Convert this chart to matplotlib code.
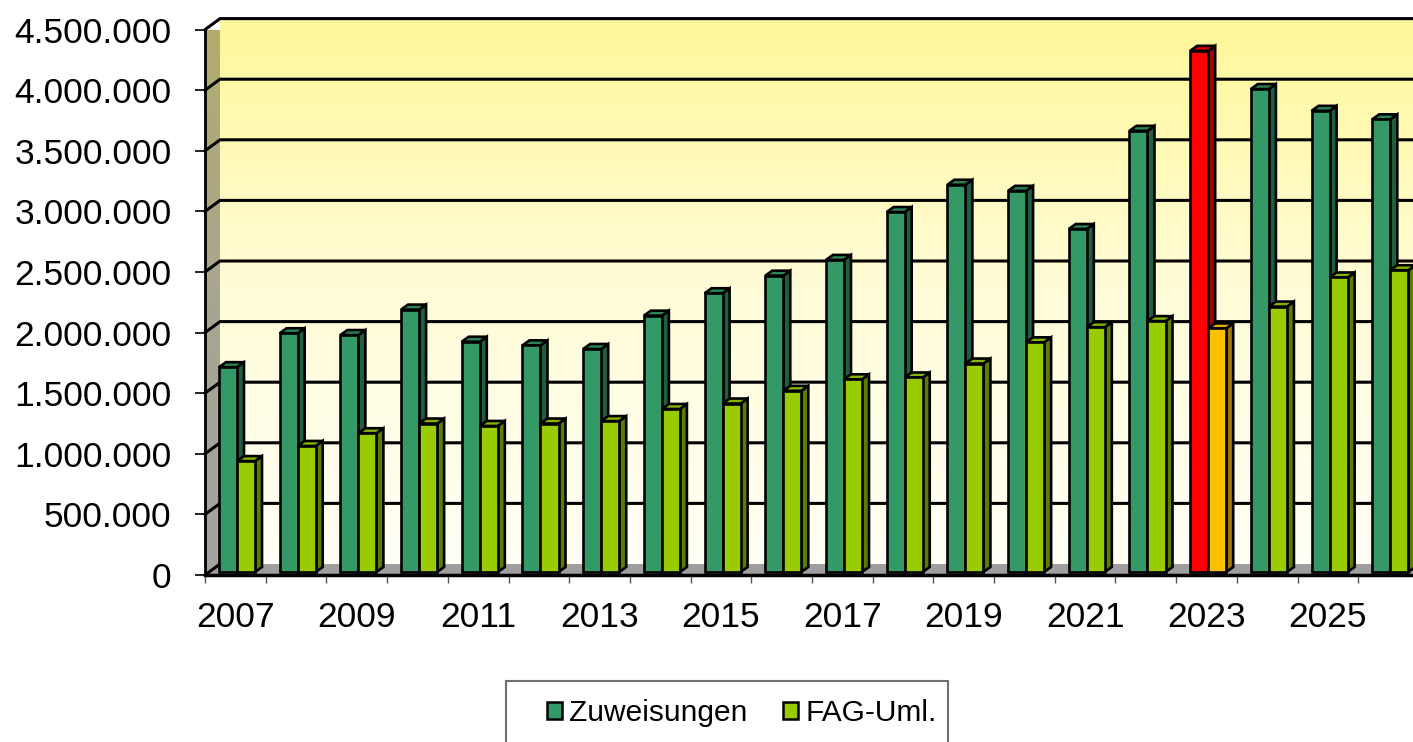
import numpy as np
import matplotlib
matplotlib.use("Agg")
import matplotlib.pyplot as plt
from matplotlib.patches import Polygon, Rectangle, Patch
from matplotlib.colors import LinearSegmentedColormap

plt.rcParams["font.family"] = ["Liberation Sans", "DejaVu Sans"]

# data
years = list(range(2007, 2027))
zuweisungen = [1690000, 1970000, 1955000, 2165000, 1900000, 1870000, 1840000,
               2115000, 2300000, 2445000, 2575000, 2970000, 3195000, 3145000,
               2830000, 3640000, 4300000, 3985000, 3805000, 3735000]
fag_uml = [915000, 1040000, 1145000, 1225000, 1205000, 1225000, 1245000,
           1345000, 1390000, 1495000, 1590000, 1605000, 1720000, 1895000,
           2020000, 2070000, 2010000, 2190000, 2430000, 2490000]
highlight_year = 2023
y_ticks = list(range(0, 4500001, 500000))
x_labels = years[::2]

# colours: front, top, side
c_zuw = ("#339966", "#2B8457", "#1F5E3F")
c_fag = ("#99CC00", "#86B300", "#5E7D00")
c_zuw_hl = ("#FF0000", "#E00000", "#A00000")
c_fag_hl = ("#FFC000", "#E6AA00", "#A07800")

W, H = 1413, 742
fig = plt.figure(figsize=(W / 100, H / 100), dpi=100)
ax = fig.add_axes([205 / W, 167 / H, (W - 205) / W, 545.4 / H])
ymax = 4500000
xmax = (W - 205) / 60.7

px_y = ymax / 545.4
px_x = 1 / 60.7
wdx, wdy = 15 * px_x, 11 * px_y   # wall depth
bdx, bdy = 7 * px_x, 5 * px_y     # bar depth
base = 3 * px_y

# back wall gradient
grad = np.linspace(0, 1, 256).reshape(-1, 1)
cm_back = LinearSegmentedColormap.from_list("back", ["#FFFFF5", "#FFFCD8", "#FFF799"])
ax.imshow(grad, extent=[wdx, xmax + 1, wdy, ymax + wdy], origin="lower",
          cmap=cm_back, aspect="auto", zorder=0, clip_on=False)

# left wall
wall = Polygon([(0, 0), (wdx, wdy), (wdx, ymax + wdy), (0, ymax)],
               closed=True, fc="none", ec="none", transform=ax.transData)
ax.add_patch(wall)
cm_left = LinearSegmentedColormap.from_list("left", ["#A3A3A3", "#A8A690", "#B3AC6C"])
im = ax.imshow(grad, extent=[0, wdx, 0, ymax + wdy], origin="lower",
               cmap=cm_left, aspect="auto", zorder=0)
im.set_clip_path(wall)

# floor
ax.add_patch(Polygon([(0, 0), (xmax + 1, 0), (xmax + 1 + wdx, wdy), (wdx, wdy)],
                     closed=True, fc="#9E9E9E", ec="none", zorder=0.5, clip_on=False))

# gridlines on walls
for v in y_ticks:
    if v == 0:
        ax.plot([0, wdx], [0, wdy], color="black", lw=2.2, zorder=1, clip_on=False)
    else:
        ax.plot([0, wdx, xmax + 1], [v, v + wdy, v + wdy], color="black", lw=2.2,
                zorder=1, clip_on=False)


def draw_bar(x, w, v, cols):
    front, top, side = cols
    y0, y1 = base, base + v
    ax.add_patch(Polygon([(x + w, y0), (x + w + bdx, y0 + bdy), (x + w + bdx, y1 + bdy), (x + w, y1)],
                         closed=True, fc=side, ec="black", lw=1.9, zorder=3))
    ax.add_patch(Polygon([(x, y1), (x + bdx, y1 + bdy), (x + w + bdx, y1 + bdy), (x + w, y1)],
                         closed=True, fc=top, ec="black", lw=1.9, zorder=3))
    ax.bar(x, v, width=w, bottom=y0, align="edge", color=front, edgecolor="black",
           linewidth=1.9, zorder=3)


bw = 0.297
for i, yr in enumerate(years):
    hl = yr == highlight_year
    draw_bar(i + 0.23, bw, zuweisungen[i], c_zuw_hl if hl else c_zuw)
    draw_bar(i + 0.23 + bw, bw, fag_uml[i], c_fag_hl if hl else c_fag)

ax.set_xlim(0, xmax)
ax.set_ylim(0, ymax)

for s in ["top", "right"]:
    ax.spines[s].set_visible(False)
ax.spines["left"].set_linewidth(2)
ax.spines["bottom"].set_linewidth(2.5)

ax.set_yticks(y_ticks)
ax.set_yticklabels([f"{v:,}".replace(",", ".") for v in y_ticks])
ax.tick_params(axis="y", length=7, width=1.2, pad=17, labelsize=25.5)

ax.set_xticks(np.arange(0, 20))
ax.set_xticklabels([])
ax.tick_params(axis="x", which="major", length=6, width=1, color="#555555")
ax.set_xticks(np.arange(0.5, 20, 2), minor=True)
ax.set_xticklabels([str(y) for y in x_labels], minor=True)
ax.tick_params(axis="x", which="minor", length=0, pad=19, labelsize=25.5)

# legend
fig.add_artist(Rectangle((506 / W, -0.05), (948 - 506) / W, 0.05 + 61 / H,
                         transform=fig.transFigure, fill=False, ec="#707070", lw=1.5))
fig.legend(handles=[Patch(fc=c_zuw[0], ec="black", lw=1.8, label="Zuweisungen"),
                    Patch(fc=c_fag[0], ec="black", lw=1.8, label="FAG-Uml.")],
           loc="center", bbox_to_anchor=(742 / W, 29 / H), ncol=2, frameon=False,
           fontsize=21.5, handlelength=0.5, handleheight=0.5, handletextpad=0.25,
           columnspacing=1.2)

fig.savefig("out.png", dpi=100)
